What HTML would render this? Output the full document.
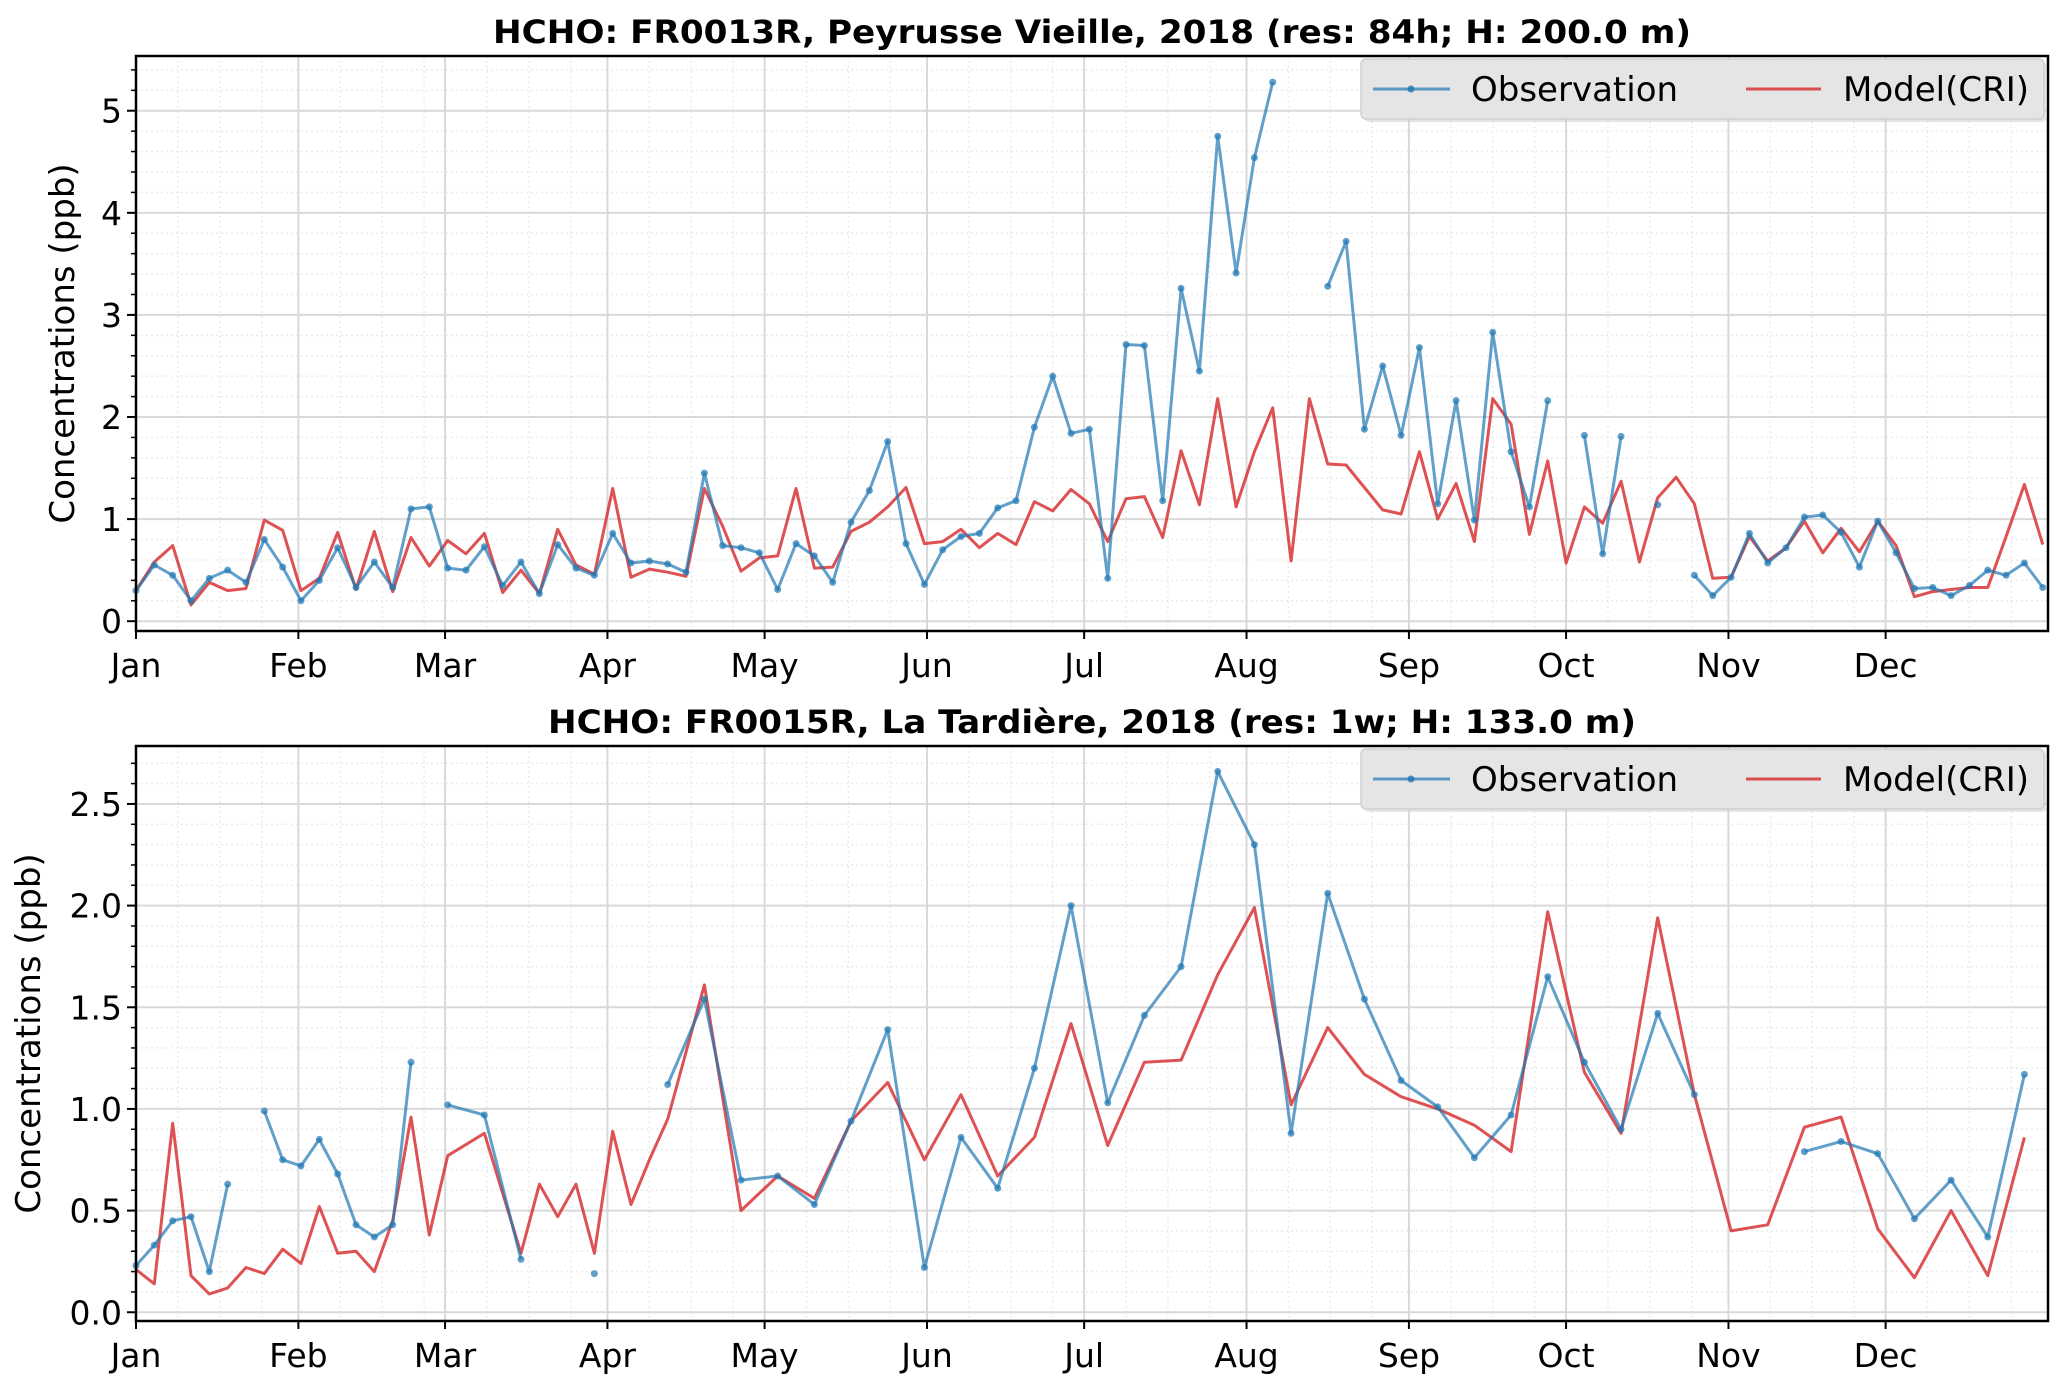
<!DOCTYPE html>
<html><head><meta charset="utf-8"><style>
html,body{margin:0;padding:0;background:#fff;}
svg{display:block;font-family:"DejaVu Sans","Liberation Sans",sans-serif;}
</style></head><body>
<svg id="fig" width="2067" height="1393" viewBox="0 0 2067 1393" xmlns="http://www.w3.org/2000/svg"></svg>
<script>
// ---------- DATA ----------
const monthLabels = ["Jan","Feb","Mar","Apr","May","Jun","Jul","Aug","Sep","Oct","Nov","Dec"];
const monthStartDays = [0,31,59,90,120,151,181,212,243,273,304,334];

// top panel: 84h resolution (3.5-day steps)
const topStepDays = 3.5;
const topObs = [0.30,0.55,0.45,0.20,0.42,0.50,0.38,0.80,0.53,0.20,
 0.40,0.72,0.33,0.58,0.33,1.10,1.12,0.52,0.50,0.73,
 0.35,0.58,0.27,0.75,0.52,0.45,0.86,0.57,0.59,0.56,
 0.48,1.45,0.74,0.72,0.67,0.31,0.76,0.64,0.38,0.97,
 1.28,1.76,0.76,0.36,0.70,0.83,0.86,1.11,1.18,1.90,
 2.40,1.84,1.88,0.42,2.71,2.70,1.18,3.26,2.45,4.75,
 3.41,4.54,5.28,null,null,3.28,3.72,1.88,2.50,1.82,
 2.68,1.15,2.16,0.99,2.83,1.66,1.12,2.16,null,1.82,
 0.66,1.81,null,1.14,null,0.45,0.25,0.43,0.86,0.57,
 0.72,1.02,1.04,0.87,0.53,0.98,0.67,0.32,0.33,0.25,
 0.35,0.50,0.45,0.57,0.33];
const topModel = [0.30,0.58,0.74,0.16,0.38,0.30,0.32,0.99,0.89,0.30,
 0.42,0.87,0.31,0.88,0.29,0.82,0.54,0.79,0.66,0.86,
 0.28,0.50,0.27,0.90,0.55,0.46,1.30,0.43,0.51,0.48,
 0.44,1.30,0.93,0.49,0.62,0.64,1.30,0.52,0.53,0.88,
 0.97,1.12,1.31,0.76,0.78,0.90,0.72,0.86,0.75,1.17,
 1.08,1.29,1.15,0.78,1.20,1.22,0.82,1.67,1.14,2.18,
 1.12,1.66,2.09,0.59,2.18,1.54,1.53,1.31,1.09,1.05,
 1.66,1.00,1.35,0.78,2.18,1.93,0.85,1.57,0.57,1.12,
 0.96,1.37,0.58,1.21,1.41,1.15,0.42,0.43,0.83,0.59,
 0.72,0.98,0.67,0.91,0.68,0.98,0.74,0.24,0.29,0.31,
 0.33,0.33,0.83,1.34,0.75];
const topYTicks = [0,1,2,3,4,5];
const topYTickLabels = ["0","1","2","3","4","5"];

// bottom panel
const botDays = [0,3.5,7,10.5,14,17.5,21,24.5,28,31.5,35,38.5,42,45.5,49,52.5,56,59.5,66.5,73.5,
 77,80.5,84,87.5,91,94.5,98,101.5,108.5,115.5,122.5,129.5,136.5,143.5,150.5,157.5,164.5,171.5,178.5,185.5,
 192.5,199.5,206.5,213.5,220.5,227.5,234.5,241.5,248.5,255.5,262.5,269.5,276.5,283.5,290.5,297.5,304.5,311.5,318.5,325.5,
 332.5,339.5,346.5,353.5,360.5];
const botModel = [0.21,0.14,0.93,0.18,0.09,0.12,0.22,0.19,0.31,0.24,0.52,0.29,0.30,0.20,0.45,0.96,0.38,0.77,0.88,0.29,
 0.63,0.47,0.63,0.29,0.89,0.53,0.75,0.95,1.61,0.50,0.67,0.56,0.94,1.13,0.75,1.07,0.67,0.86,1.42,0.82,
 1.23,1.24,1.66,1.99,1.02,1.40,1.17,1.06,1.00,0.92,0.79,1.97,1.18,0.88,1.94,1.07,0.40,0.43,0.91,0.96,
 0.41,0.17,0.50,0.18,0.86];
const botObs = [0.23,0.33,0.45,0.47,0.20,0.63,null,0.99,0.75,0.72,0.85,0.68,0.43,0.37,0.43,1.23,null,1.02,0.97,0.26,
 null,null,null,0.19,null,null,null,1.12,1.54,0.65,0.67,0.53,0.94,1.39,0.22,0.86,0.61,1.20,2.00,1.03,
 1.46,1.70,2.66,2.30,0.88,2.06,1.54,1.14,1.01,0.76,0.97,1.65,1.23,0.90,1.47,1.07,null,null,0.79,0.84,
 0.78,0.46,0.65,0.37,1.17];
const botYTicks = [0,0.5,1,1.5,2,2.5];
const botYTickLabels = ["0.0","0.5","1.0","1.5","2.0","2.5"];

// ---------- DRAW ----------
const NS="http://www.w3.org/2000/svg";
const svg=document.getElementById('fig');
function el(tag,attrs,parent){const e=document.createElementNS(NS,tag);for(const k in attrs)e.setAttribute(k,attrs[k]);(parent||svg).appendChild(e);return e;}

function panel(cfg){
  const g=el('g',{});
  
  
  const L=136,R=2048,T=cfg.top,B=cfg.bottom;
  const xs=d=>L+(d-0)/(365-0)*(R-L);
  const ys=v=>B-(v-cfg.ymin)/(cfg.ymax-cfg.ymin)*(B-T);
  const mg=el('g',{},g);
  
  
  for(let m=0;m<12;m++){for(const off of [8,16,24]){const x=xs(monthStartDays[m]+off);if(x<R)el('line',{x1:x,x2:x,y1:T,y2:B,stroke:'#ebebeb','stroke-width':1.5,'stroke-dasharray':'2,3'},mg);}}
  for(let v=Math.ceil(cfg.ymin/cfg.minor)*cfg.minor;v<=cfg.ymax;v+=cfg.minor){const y=ys(v);el('line',{x1:L,x2:R,y1:y,y2:y,stroke:'#ebebeb','stroke-width':1.5,'stroke-dasharray':'2,3'},mg);
    el('line',{x1:L-5,x2:L,y1:y,y2:y,stroke:'#000','stroke-width':1.5},g);}
  const gg=el('g',{},g);
  
  
  monthStartDays.forEach(d=>{const x=xs(d);el('line',{x1:x,x2:x,y1:T,y2:B,stroke:'#d9d9d9','stroke-width':2},gg);});
  cfg.yticks.forEach(v=>{const y=ys(v);el('line',{x1:L,x2:R,y1:y,y2:y,stroke:'#d9d9d9','stroke-width':2},gg);});
  function drawSeries(days,vals,color,op,markers,name){
    const sg=el('g',{},g);
    
    
    let seg=[];
    const flush=()=>{if(seg.length>1){el('polyline',{points:seg.join(' '),fill:'none',stroke:color,'stroke-opacity':op,'stroke-width':3,'stroke-linejoin':'round'},sg);}seg=[];};
    for(let i=0;i<vals.length;i++){
      if(vals[i]===null){flush();continue;}
      seg.push(xs(days[i]).toFixed(1)+','+ys(vals[i]).toFixed(1));
    }
    flush();
    if(markers){for(let i=0;i<vals.length;i++){if(vals[i]===null)continue;
      const c=el('circle',{cx:xs(days[i]),cy:ys(vals[i]),r:3.5,fill:color,'fill-opacity':op},sg);
      
      }}
  }
  drawSeries(cfg.days,cfg.model,'#d62728',0.8,false,'model-line');
  drawSeries(cfg.days,cfg.obs,'#1f77b4',0.7,true,'observation-line');
  const fr=el('rect',{x:L,y:T,width:R-L,height:B-T,fill:'none',stroke:'#000','stroke-width':2.5},g);
  
  
  monthStartDays.forEach((d,i)=>{const x=xs(d);el('line',{x1:x,x2:x,y1:B,y2:B+8,stroke:'#000','stroke-width':2},g);
    const t=el('text',{x:x,y:B+46,'font-size':33,'text-anchor':'middle',fill:'#000'},g);t.textContent=monthLabels[i];
    
    });
  cfg.yticks.forEach((v,i)=>{const y=ys(v);el('line',{x1:L-9,x2:L,y1:y,y2:y,stroke:'#000','stroke-width':2},g);
    const t=el('text',{x:L-14,y:y+12,'font-size':33,'text-anchor':'end',fill:'#000'},g);t.textContent=cfg.ylabels[i];
    
    });
  const yl=el('text',{x:0,y:0,'font-size':34,'text-anchor':'middle',transform:`translate(${cfg.ylabX},${(T+B)/2}) rotate(-90)`,fill:'#000'},g);
  yl.textContent='Concentrations (ppb)';
  
  
  const tt=el('text',{x:(L+R)/2,y:T-13,'font-size':32,'font-weight':'bold','text-anchor':'middle',fill:'#000',textLength:cfg.titleLen,lengthAdjust:'spacingAndGlyphs'},g);
  tt.textContent=cfg.title;
  
  
  const lg=el('g',{},g);
  
  
  const ly=T+3;
  el('rect',{x:1364,y:ly+3,width:683,height:60,rx:5,fill:'#cccccc','fill-opacity':0.5},lg);
  el('rect',{x:1361,y:ly,width:683,height:60,rx:5,fill:'#e5e5e5',stroke:'#d0d0d0','stroke-width':1.5},lg);
  const cy=ly+30;
  const e1=el('g',{},lg);
  
  
  el('line',{x1:1373,x2:1450,y1:cy,y2:cy,stroke:'#1f77b4','stroke-opacity':0.7,'stroke-width':3},e1);
  el('circle',{cx:1411,cy:cy,r:3.5,fill:'#1f77b4','fill-opacity':0.8},e1);
  const lt1=el('text',{x:1471,y:cy+12,'font-size':34,fill:'#000'},e1);lt1.textContent='Observation';
  const e2=el('g',{},lg);
  
  
  el('line',{x1:1746,x2:1821,y1:cy,y2:cy,stroke:'#d62728','stroke-opacity':0.8,'stroke-width':3},e2);
  const lt2=el('text',{x:1843,y:cy+12,'font-size':34,fill:'#000'},e2);lt2.textContent='Model(CRI)';
}

const topDays = topObs.map((_,i)=>i*topStepDays);
panel({name:'panel-fr0013r',top:56,bottom:631,ymin:-0.096,ymax:5.536,minor:0.2,yticks:topYTicks,ylabels:topYTickLabels,
  days:topDays,obs:topObs,model:topModel,ylabX:74,
  title:'HCHO: FR0013R, Peyrusse Vieille, 2018 (res: 84h; H: 200.0 m)',titleLen:1198});
panel({name:'panel-fr0015r',top:746,bottom:1321,ymin:-0.043,ymax:2.785,minor:0.1,yticks:botYTicks,ylabels:botYTickLabels,
  days:botDays,obs:botObs,model:botModel,ylabX:40,
  title:'HCHO: FR0015R, La Tardière, 2018 (res: 1w; H: 133.0 m)',titleLen:1088});
</script>
</body></html>
